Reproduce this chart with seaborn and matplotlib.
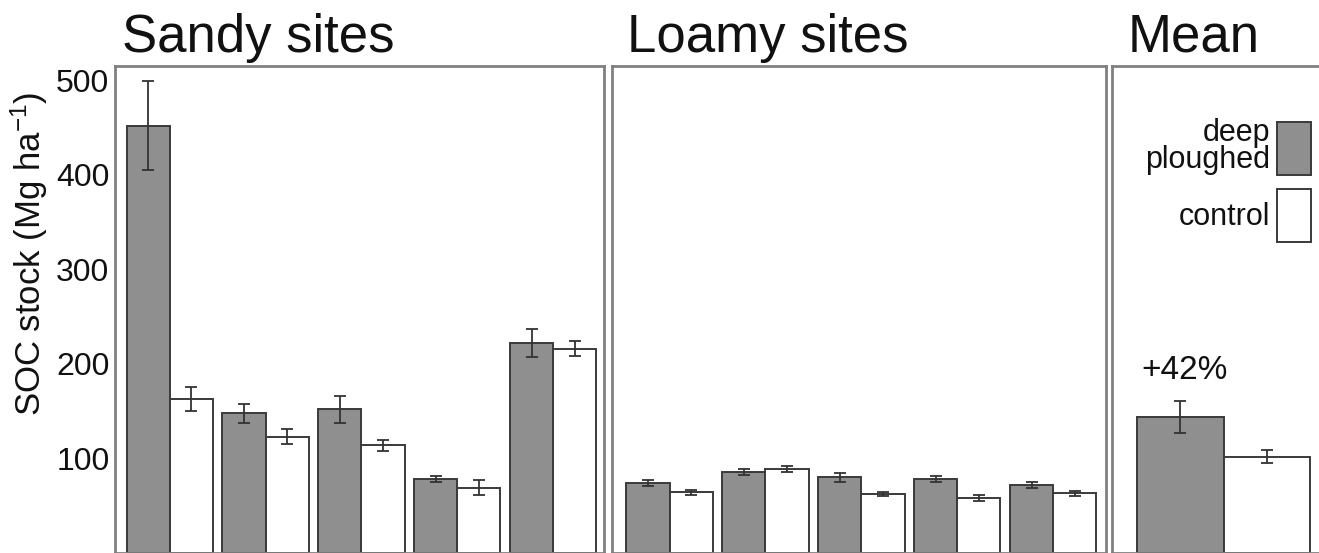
import matplotlib
matplotlib.use('Agg')
import matplotlib.pyplot as plt
from matplotlib.patches import Patch
import seaborn as sns
import pandas as pd


# data
sandy_sites = ['S1', 'S2', 'S3', 'S4', 'S5']
sandy_deep = [452, 148, 152, 78, 222]
sandy_deep_err = [47, 10, 14, 3, 15]
sandy_ctrl = [163, 123, 114, 69, 216]
sandy_ctrl_err = [13, 8, 6, 8, 8]

loamy_sites = ['L1', 'L2', 'L3', 'L4', 'L5']
loamy_deep = [74, 86, 80, 78, 72]
loamy_deep_err = [3, 3, 5, 3, 3]
loamy_ctrl = [64, 89, 62, 58, 63]
loamy_ctrl_err = [3, 3, 2, 3, 3]

mean_sites = ['Mean']
mean_deep = [144]
mean_deep_err = [17]
mean_ctrl = [102]
mean_ctrl_err = [7]

treatments = ['deep\nploughed', 'control']
yticks = [100, 200, 300, 400, 500]

sns.set_style('white')
plt.rcParams['font.family'] = ['Liberation Sans', 'DejaVu Sans']
plt.rcParams['mathtext.fontset'] = 'custom'
plt.rcParams['mathtext.rm'] = 'Liberation Sans'
plt.rcParams['mathtext.default'] = 'regular'
plt.rcParams['text.color'] = '#111111'
plt.rcParams['axes.labelcolor'] = '#111111'

dark = '#8f8f8f'
spine_col = '#808080'
palette = {treatments[0]: dark, treatments[1]: 'white'}


def make_df(sites, deep, ctrl):
    rows = []
    for s, d, c in zip(sites, deep, ctrl):
        rows.append({'site': s, 'treatment': treatments[0], 'soc': d})
        rows.append({'site': s, 'treatment': treatments[1], 'soc': c})
    return pd.DataFrame(rows)


def panel(ax, sites, deep, ctrl, deep_err, ctrl_err, width):
    df = make_df(sites, deep, ctrl)
    sns.barplot(data=df, x='site', y='soc', hue='treatment', palette=palette,
                width=width, errorbar=None, legend=False, ax=ax,
                edgecolor='#3a3a3a', linewidth=1.4)
    for cont, vals, errs in zip(ax.containers, [deep, ctrl], [deep_err, ctrl_err]):
        xs = [p.get_x() + p.get_width() / 2 for p in cont]
        ax.errorbar(xs, vals, yerr=errs, fmt='none', ecolor='#333333',
                    elinewidth=1.3, capsize=4.5, capthick=1.3)
    ax.set_ylim(0, 515)
    ax.set_yticks(yticks)
    ax.set_xticks([])
    ax.set_xlabel('')
    ax.set_ylabel('')
    ax.tick_params(axis='y', direction='in', length=6, width=1.3,
                   color='#555555', labelcolor='#111111', labelsize=23, pad=4)
    for sp in ax.spines.values():
        sp.set_visible(True)
        sp.set_color(spine_col)
        sp.set_linewidth(2)


fig = plt.figure(figsize=(13.19, 5.53), dpi=100)
W, H = 1319, 553
top = 66
ax1 = fig.add_axes([115 / W, 0, (604 - 115) / W, (H - top) / H])
ax2 = fig.add_axes([612 / W, 0, (1106 - 612) / W, (H - top) / H])
ax3 = fig.add_axes([1112 / W, 0, (1330 - 1112) / W, (H - top) / H])

panel(ax1, sandy_sites, sandy_deep, sandy_ctrl, sandy_deep_err, sandy_ctrl_err, 0.9)
panel(ax2, loamy_sites, loamy_deep, loamy_ctrl, loamy_deep_err, loamy_ctrl_err, 0.9)
panel(ax3, mean_sites, mean_deep, mean_ctrl, mean_deep_err, mean_ctrl_err, 0.8)

ax1.set_xlim(-0.57, 4.53)
ax2.set_xlim(-0.6, 4.55)
ax3.set_xlim(-0.515, 0.49)
ax2.tick_params(axis='y', labelleft=False)
ax3.tick_params(axis='y', labelleft=False)

ax1.set_ylabel('SOC stock (Mg ha$^{-1}$)', fontsize=25)
ax1.yaxis.set_label_coords(-0.133, 0.615)

ax1.text(0.014, 1.029, 'Sandy sites', transform=ax1.transAxes, fontsize=38,
         ha='left', va='baseline')
ax2.text(0.03, 1.029, 'Loamy sites', transform=ax2.transAxes, fontsize=38,
         ha='left', va='baseline')
ax3.text(0.073, 1.029, 'Mean', transform=ax3.transAxes, fontsize=38,
         ha='left', va='baseline')

ax3.text(-0.18, 193, '+42%', fontsize=24, ha='center', va='center')

handles = [Patch(facecolor=palette[t], edgecolor='#3a3a3a', linewidth=1.4)
           for t in treatments]
leg = ax3.legend(handles, treatments, loc='upper right',
                 bbox_to_anchor=(0.913, 0.893), frameon=False, fontsize=22,
                 markerfirst=False, borderpad=0, borderaxespad=0,
                 handlelength=1.1, handleheight=2.3, handletextpad=0.25,
                 labelspacing=0.45)
for t in leg.get_texts():
    t.set_multialignment('right')
    t.set_linespacing(0.85)

fig.savefig('out.png', dpi=100)
